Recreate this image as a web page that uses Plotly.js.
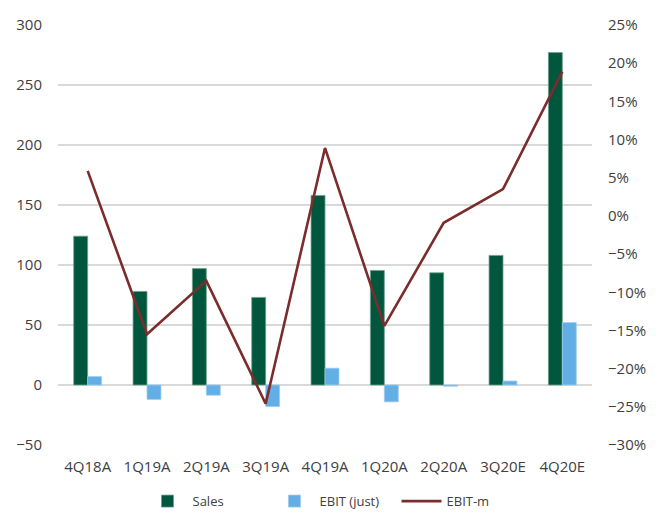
<!DOCTYPE html>
<html><head><meta charset="utf-8">
<script src="https://cdn.plot.ly/plotly-3.0.1.min.js"></script>
<style>html,body{margin:0;padding:0;background:#fff}</style>
</head><body>
<div id="chart" style="width:662px;height:512px"></div>
<script>
const categories = ["4Q18A","1Q19A","2Q19A","3Q19A","4Q19A","1Q20A","2Q20A","3Q20E","4Q20E"];
const sales = [124, 78, 97, 73, 158, 95.5, 93.5, 108, 277];
const ebit = [7, -12, -8.5, -18, 14, -14, -1, 3.3, 52];
const ebitMargin = [5.9, -15.5, -8.5, -24.6, 8.9, -14.4, -0.9, 3.5, 18.9];

const fontFam = "Open Sans, Liberation Sans, sans-serif";
const traces = [
  {type:'bar', name:'Sales', x:categories, y:sales, marker:{color:'#00573D', line:{color:'#6FA08C', width:0.8}}},
  {type:'bar', name:'EBIT (just)', x:categories, y:ebit, marker:{color:'#62AEE5', line:{color:'#9ACBEF', width:0.8}}},
  {type:'scatter', mode:'lines', name:'EBIT-m', x:categories, y:ebitMargin, yaxis:'y2', line:{color:'#7B2C2C', width:2.6}}
];
const layout = {
  width:662, height:512,
  margin:{l:58, r:70, t:25, b:67, autoexpand:false},
  paper_bgcolor:'#fff', plot_bgcolor:'#fff',
  barmode:'group', bargap:0.53, bargroupgap:0,
  font:{family:fontFam, size:15, color:'#404040'},
  showlegend:true,
  legend:{orientation:'h', x:0.515, xanchor:'center', y:-0.098, yanchor:'top', font:{size:13, color:'#404040'}, traceorder:'normal', itemwidth:40, entrywidth:72},
  xaxis:{type:'category', showgrid:false, zeroline:false, showline:false, ticks:'', tickfont:{size:15, color:'#404040'}, ticklabelstandoff:11},
  yaxis:{range:[-50,300], dtick:50, tick0:0, showgrid:true, gridcolor:'#D9D9D9', gridwidth:1.3, zeroline:true, zerolinecolor:'#D9D9D9', zerolinewidth:1.3, showline:false, tickfont:{size:15, color:'#404040'}, ticklabelstandoff:15},
  yaxis2:{range:[-30,25], dtick:5, tick0:0, overlaying:'y', side:'right', showgrid:false, zeroline:false, showline:false, ticksuffix:'%', tickfont:{size:15, color:'#404040'}, ticklabelstandoff:15}
};
Plotly.newPlot('chart', traces, layout, {displayModeBar:false, staticPlot:true});
</script>
</body></html>
